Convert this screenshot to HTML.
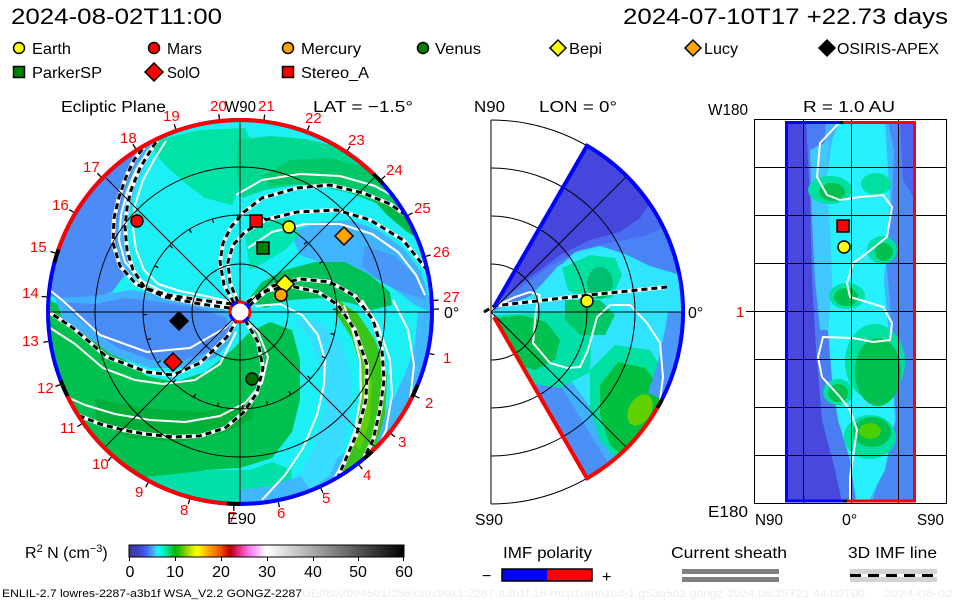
<!DOCTYPE html>
<html><head><meta charset="utf-8"><title>ENLIL</title>
<style>
html,body{margin:0;padding:0;background:#fff;}
svg{display:block;}
text{font-family:"Liberation Sans",sans-serif;}
</style></head><body>
<svg width="960" height="600" viewBox="0 0 960 600" xmlns="http://www.w3.org/2000/svg">
<defs>
<clipPath id="ecl"><circle cx="240" cy="312" r="192"/></clipPath>
<clipPath id="mer"><path d="M494 307 L587 145.7 A192 192 0 0 1 587 478.3 L494 317 Z"/></clipPath>
<clipPath id="rp"><rect x="785" y="121" width="130" height="381"/></clipPath>
<linearGradient id="cb" x1="0" x2="1" y1="0" y2="0">
<stop offset="0" stop-color="#3c3c8c"/>
<stop offset="0.0333" stop-color="#4040c8"/>
<stop offset="0.05" stop-color="#4050e8"/>
<stop offset="0.0667" stop-color="#4070f8"/>
<stop offset="0.0833" stop-color="#40a0ff"/>
<stop offset="0.1" stop-color="#40d8ff"/>
<stop offset="0.1083" stop-color="#00ffff"/>
<stop offset="0.1333" stop-color="#00e8a0"/>
<stop offset="0.15" stop-color="#00d060"/>
<stop offset="0.1667" stop-color="#00b800"/>
<stop offset="0.1833" stop-color="#30c000"/>
<stop offset="0.2" stop-color="#70cc00"/>
<stop offset="0.2167" stop-color="#a8dc00"/>
<stop offset="0.2333" stop-color="#e0f000"/>
<stop offset="0.25" stop-color="#ffff00"/>
<stop offset="0.2667" stop-color="#ffd800"/>
<stop offset="0.2833" stop-color="#ffb000"/>
<stop offset="0.3" stop-color="#ff9000"/>
<stop offset="0.3167" stop-color="#ff7000"/>
<stop offset="0.3333" stop-color="#f05000"/>
<stop offset="0.35" stop-color="#e02000"/>
<stop offset="0.3667" stop-color="#c00000"/>
<stop offset="0.3833" stop-color="#d01040"/>
<stop offset="0.4" stop-color="#e03080"/>
<stop offset="0.4167" stop-color="#f050b0"/>
<stop offset="0.4333" stop-color="#ff70e0"/>
<stop offset="0.45" stop-color="#ff90ff"/>
<stop offset="0.4667" stop-color="#ffb8ff"/>
<stop offset="0.4833" stop-color="#ffe0ff"/>
<stop offset="0.5" stop-color="#ffffff"/>
<stop offset="1" stop-color="#000000"/>
</linearGradient>
</defs>
<rect width="960" height="600" fill="#fff"/>

<!-- Titles -->
<text x="11" y="24" font-size="22" textLength="211" lengthAdjust="spacingAndGlyphs">2024-08-02T11:00</text>
<text x="623" y="24" font-size="22" textLength="325" lengthAdjust="spacingAndGlyphs">2024-07-10T17 +22.73 days</text>

<!-- Legend -->
<g stroke="#000" stroke-width="1.5">
<circle cx="19" cy="48" r="5.5" fill="#ffff00"/>
<circle cx="154" cy="48" r="5.5" fill="#ff0000"/>
<circle cx="288" cy="48" r="5.5" fill="#ffa500"/>
<circle cx="423" cy="48" r="5.5" fill="#008000"/>
<polygon points="558,40 566,48 558,56 550,48" fill="#ffff00"/>
<polygon points="693,40 701,48 693,56 685,48" fill="#ffa500"/>
<polygon points="827,40 835,48 827,56 819,48" fill="#000"/>
<rect x="13.5" y="66.5" width="11" height="11" fill="#008000"/>
<polygon points="154,63 163,72 154,81 145,72" fill="#ff0000"/>
<rect x="282.5" y="66.5" width="11" height="11" fill="#ff0000"/>
</g>
<g font-size="16">
<text x="32" y="54" textLength="39" lengthAdjust="spacingAndGlyphs">Earth</text>
<text x="167" y="54" textLength="35" lengthAdjust="spacingAndGlyphs">Mars</text>
<text x="301" y="54" textLength="60" lengthAdjust="spacingAndGlyphs">Mercury</text>
<text x="435" y="54" textLength="46" lengthAdjust="spacingAndGlyphs">Venus</text>
<text x="569" y="54" textLength="33" lengthAdjust="spacingAndGlyphs">Bepi</text>
<text x="704" y="54" textLength="34" lengthAdjust="spacingAndGlyphs">Lucy</text>
<text x="837" y="54" textLength="102" lengthAdjust="spacingAndGlyphs">OSIRIS-APEX</text>
<text x="32" y="78" textLength="70" lengthAdjust="spacingAndGlyphs">ParkerSP</text>
<text x="167" y="78" textLength="33" lengthAdjust="spacingAndGlyphs">SolO</text>
<text x="301" y="78" textLength="68" lengthAdjust="spacingAndGlyphs">Stereo_A</text>
</g>

<!-- Panel headers -->
<g font-size="16">
<text x="61" y="112" textLength="105" lengthAdjust="spacingAndGlyphs">Ecliptic Plane</text>
<text x="225" y="112" textLength="31" lengthAdjust="spacingAndGlyphs">W90</text>
<text x="313" y="112" textLength="100" lengthAdjust="spacingAndGlyphs">LAT = −1.5°</text>
<text x="474" y="112" textLength="31" lengthAdjust="spacingAndGlyphs">N90</text>
<text x="539" y="112" textLength="78" lengthAdjust="spacingAndGlyphs">LON = 0°</text>
<text x="708" y="115" textLength="40" lengthAdjust="spacingAndGlyphs">W180</text>
<text x="803" y="112" textLength="92" lengthAdjust="spacingAndGlyphs">R = 1.0 AU</text>
</g>

<!-- ================= ECLIPTIC ================= -->
<g clip-path="url(#ecl)">
<circle cx="240" cy="312" r="192" fill="#1cf0f4"/>
<polygon fill="#00e2a6" points="150,142 200,130 245,128 252,142 246,175 232,205 205,198 185,183 165,165 155,152"/>
<polygon fill="#00c050" points="44,298 62,306 80,322 100,342 147,376 175,382 205,372 232,350 250,332 270,322 292,330 300,360 300,400 292,432 272,458 240,468 205,470 178,478 158,486 130,476 105,458 82,432 64,400 52,365 46,340"/>
<polygon fill="#00b038" points="95,398 140,408 200,412 240,406 256,394 252,418 228,432 180,442 130,438 96,422"/>
<polygon fill="#00e0a8" points="140,478 175,474 210,470 250,470 272,462 292,470 290,490 260,502 220,505 180,498 155,488"/>
<polygon fill="#4c8cf6" points="40,292 48,268 55,250 64,232 75,214 88,196 102,180 118,166 134,154 150,144 138,160 128,182 121,205 117,230 118,255 124,276 112,292 90,300 62,300"/>
<polygon fill="#40b4ff" points="150,144 156,142 146,162 136,185 129,210 126,236 128,258 134,278 124,276 118,255 117,230 121,205 128,182 138,160"/>
<polygon fill="#40b0ff" points="55,298 95,296 130,290 170,295 215,303 235,318 232,340 215,358 185,368 150,368 112,355 85,335 62,318"/>
<polygon fill="#4a8cf6" points="62,302 95,304 125,298 160,302 200,308 226,318 230,334 214,350 185,360 150,360 118,348 95,332 75,316"/>
<polygon fill="#40b8ff" points="432,312 429,345 420,378 406,408 384,440 361,462 336,478 306,492 273,501 240,504 240,490 270,486 300,476 328,464 352,448 373,428 393,400 406,372 415,343 418,312"/>
<polygon fill="#38dcff" points="295,318 320,322 340,340 350,370 352,400 345,440 330,475 310,490 300,475 315,445 325,405 322,370 310,340"/>
<polygon fill="#38c418" points="338,300 358,314 375,340 387,375 385,415 375,450 360,472 342,488 334,478 350,448 360,410 362,372 352,338 335,312"/>
<polygon fill="#5cd000" points="352,332 365,352 372,382 370,420 360,450 353,444 360,410 362,376 356,346"/>
<polygon fill="#00d890" points="238,140 270,136 305,139 335,146 362,158 388,175 408,195 422,218 429,242 415,232 400,218 380,203 355,193 325,186 295,185 265,190 242,198 236,170"/>
<polygon fill="#00c868" points="290,160 330,158 362,166 388,182 408,200 420,222 426,240 412,230 396,216 376,203 350,193 320,186 292,184 270,186 262,176"/>
<polygon fill="#00b848" points="372,198 395,206 413,221 424,242 407,232 386,214"/>
<polygon fill="#40b4ff" points="290,232 320,222 350,220 378,230 403,248 420,270 430,300 431,312 415,305 395,290 370,275 345,265 320,262 300,255"/>
<polygon fill="#4898f8" points="365,246 395,256 415,276 426,300 402,292 378,280 362,266"/>
<polygon fill="#00e4b0" points="245,235 265,222 290,218 300,235 285,250 265,262 250,270"/>
<polygon fill="#00c058" points="248,300 262,282 285,270 315,262 345,262 370,275 390,292 392,305 372,310 350,303 320,298 290,300 265,308"/>

<!-- white lines -->
<g fill="none" stroke="#fff" stroke-width="2" stroke-linejoin="round">
<polyline points="232,305 200,301 168,294 142,281 125,262 119,240 121,215 127,192 136,170 148,151 156,143"/>
<polyline points="233,302 205,296 180,291 158,284 144,270 136,250 133,228 135,205 143,180 155,158 166,141"/>
<polyline points="46,287 62,300 100,335 147,352 190,348 225,328 236,316"/>
<polyline points="44,324 75,344 103,368 135,380 163,384 195,380 220,364 236,332"/>
<polyline points="58,393 85,405 115,414 150,420 185,422 220,416 245,403 262,383 268,357 258,332 246,318"/>
<polyline points="262,500 285,475 303,448 317,415 324,385 325,360 318,335 302,315 280,304 255,306"/>
<polyline points="344,305 352,328 360,360 361,395 355,430 343,462 330,486"/>
<polyline points="362,300 378,325 390,360 392,395 386,430 375,455"/>
<polyline points="393,300 408,330 414,365 410,400 400,425"/>
<polyline points="236,195 262,180 300,174 340,176 375,186 400,200 418,220"/>
<polyline points="248,248 272,232 305,224 340,224 372,234 398,252 416,275 425,295"/>
</g>
<!-- dashed IMF lines -->
<g fill="none" stroke-linejoin="round">
<g stroke="#fff" stroke-width="4">
<polyline points="230,308 200,304 165,297 136,284 120,266 113,243 114,218 119,197 126,177 134,160 144,147"/>
<polyline points="232,304 200,300 168,295 145,288 133,270 127,250 125,227 127,208 131,190 140,168 152,148 157,141"/>
<polyline points="238,318 227,337 200,363 173,375 147,372 107,357 73,328 46,310"/>
<polyline points="245,320 258,342 263,368 257,393 243,413 225,428 200,436 173,437 145,434 123,430 100,424 80,416 60,404"/>
<polyline points="238,302 230,283 228,262 233,245 245,232 265,220 297,212 337,210 370,220 403,240 427,270"/>
<polyline points="234,303 224,285 220,262 223,243 231,227 244,212 262,198 297,188 330,185 363,193 390,204 407,216"/>
<polyline points="247,302 265,291 290,286 318,292 338,305 355,330 367,365 366,400 357,433 342,468 333,488"/>
<polyline points="249,306 272,286 300,279 330,282 355,296 373,320 382,350 384,380 380,410 373,440 362,462"/>
</g>
<g stroke="#000" stroke-width="3" stroke-dasharray="6 4">
<polyline points="230,308 200,304 165,297 136,284 120,266 113,243 114,218 119,197 126,177 134,160 144,147"/>
<polyline points="232,304 200,300 168,295 145,288 133,270 127,250 125,227 127,208 131,190 140,168 152,148 157,141"/>
<polyline points="238,318 227,337 200,363 173,375 147,372 107,357 73,328 46,310"/>
<polyline points="245,320 258,342 263,368 257,393 243,413 225,428 200,436 173,437 145,434 123,430 100,424 80,416 60,404"/>
<polyline points="238,302 230,283 228,262 233,245 245,232 265,220 297,212 337,210 370,220 403,240 427,270"/>
<polyline points="234,303 224,285 220,262 223,243 231,227 244,212 262,198 297,188 330,185 363,193 390,204 407,216"/>
<polyline points="247,302 265,291 290,286 318,292 338,305 355,330 367,365 366,400 357,433 342,468 333,488"/>
<polyline points="249,306 272,286 300,279 330,282 355,296 373,320 382,350 384,380 380,410 373,440 362,462"/>
</g>
</g>
<!-- grid -->
<g fill="none" stroke="#000" stroke-width="1">
<path d="M48 312 L432 312 M240 120 L240 504 M104.2 176.2 L375.8 447.8 M104.2 447.8 L375.8 176.2"/>
<circle cx="240" cy="312" r="48"/>
<circle cx="240" cy="312" r="97"/>
<circle cx="240" cy="312" r="145"/>
</g>
<circle cx="240" cy="312" r="95" fill="none" stroke="#000" stroke-width="4" stroke-dasharray="1.2 23.67" transform="rotate(-17 240 312)"/>
</g>

<!-- ecliptic outer ring -->
<g fill="none" stroke-width="4">
<circle cx="240" cy="312" r="192" stroke="#0000ff"/>
<circle cx="240" cy="312" r="192" stroke="#ff0000" stroke-dasharray="385.4 2000" transform="rotate(199 240 312)"/>
<circle cx="240" cy="312" r="192" stroke="#ff0000" stroke-dasharray="201.1 2000" transform="rotate(94 240 312)"/>
<circle cx="240" cy="312" r="192" stroke="#ff0000" stroke-dasharray="67.7 2000" transform="rotate(26.3 240 312)"/>
<circle cx="240" cy="312" r="192" stroke="#000" stroke-dasharray="13.4 2000" transform="rotate(314 240 312)"/>
<circle cx="240" cy="312" r="192" stroke="#000" stroke-dasharray="13.4 2000" transform="rotate(195 240 312)"/>
<circle cx="240" cy="312" r="192" stroke="#000" stroke-dasharray="16.8 2000" transform="rotate(154 240 312)"/>
<circle cx="240" cy="312" r="192" stroke="#000" stroke-dasharray="13.4 2000" transform="rotate(90 240 312)"/>
<circle cx="240" cy="312" r="192" stroke="#000" stroke-dasharray="11.7 2000" transform="rotate(46.5 240 312)"/>
<circle cx="240" cy="312" r="192" stroke="#000" stroke-dasharray="13.1 2000" transform="rotate(22.4 240 312)"/>
</g>
<circle cx="240" cy="312" r="196.5" fill="none" stroke="#000" stroke-width="5" stroke-dasharray="1.3 44.08" transform="rotate(-1.03 240 312)"/>

<!-- sun -->
<circle cx="240" cy="312" r="10" fill="#fff" stroke="#ff0000" stroke-width="3"/>
<circle cx="240" cy="312" r="10" fill="none" stroke="#0000ff" stroke-width="3" stroke-dasharray="7 9" transform="rotate(-60 240 312)"/>

<!-- ecliptic markers -->
<g stroke="#000" stroke-width="1.5">
<circle cx="137" cy="221" r="6" fill="#ff0000"/>
<rect x="250" y="215" width="12" height="12" fill="#ff0000"/>
<circle cx="289" cy="227" r="6" fill="#ffff00"/>
<polygon points="344,227 353,236 344,245 335,236" fill="#ffa500"/>
<rect x="257" y="242" width="12" height="12" fill="#008000"/>
<polygon points="285,275 294,284 285,293 276,284" fill="#ffff00"/>
<circle cx="281" cy="295" r="6" fill="#ffa500"/>
<polygon points="179,312 188,321 179,330 170,321" fill="#000"/>
<polygon points="173,353 182,362 173,371 164,362" fill="#ff0000"/>
<circle cx="252" cy="379" r="6" fill="#007000"/>
</g>

<!-- ecliptic labels -->
<g font-size="15" fill="#ff0000">
<text x="210" y="111">20</text>
<text x="258" y="111">21</text>
<text x="163" y="121">19</text>
<text x="305" y="123">22</text>
<text x="348" y="145">23</text>
<text x="386" y="175">24</text>
<text x="414" y="213">25</text>
<text x="433" y="257">26</text>
<text x="443" y="302">27</text>
<text x="120" y="143">18</text>
<text x="83" y="172">17</text>
<text x="52" y="210">16</text>
<text x="30" y="252">15</text>
<text x="22" y="298">14</text>
<text x="22" y="346">13</text>
<text x="37" y="393">12</text>
<text x="60" y="433">11</text>
<text x="92" y="469">10</text>
<text x="135" y="497">9</text>
<text x="180" y="515">8</text>
<text x="228" y="522">7</text>
<text x="277" y="518">6</text>
<text x="322" y="503">5</text>
<text x="363" y="480">4</text>
<text x="398" y="447">3</text>
<text x="425" y="408">2</text>
<text x="443" y="363">1</text>
</g>
<g font-size="16">
<text x="444" y="318">0°</text>
<text x="227" y="524" textLength="29" lengthAdjust="spacingAndGlyphs">E90</text>
</g>

<!-- ================= MERIDIONAL ================= -->
<g clip-path="url(#mer)">
<rect x="480" y="130" width="220" height="360" fill="#30e4ff"/>
<polygon fill="#4a84f4" points="491,312 530,296 556,270 575,252 600,246 625,254 650,266 690,278 690,100 491,100"/>
<polygon fill="#4a6cf0" points="491,306 520,288 550,266 580,250 615,242 645,236 670,225 690,200 690,100 491,100"/>
<polygon fill="#4646dc" points="491,306 515,288 540,270 560,255 590,240 620,232 640,218 652,200 656,170 640,120 491,100"/>
<polygon fill="#30e8ff" points="535,292 558,266 580,254 606,248 628,258 640,280 635,300 580,302"/>
<polygon fill="#00e0a0" points="562,268 590,255 615,258 622,275 612,298 585,300 568,290"/>
<ellipse cx="600" cy="283" rx="13" ry="16" fill="#00c070"/>
<polygon fill="#40b0ff" points="494,317 587,478 630,458 600,420 570,380 545,345 520,320"/>
<polygon fill="#4a90f6" points="494,317 587,478 610,466 560,385 520,330 500,315"/>
<polygon fill="#00e0a8" points="495,315 560,312 592,328 590,372 560,388 520,382 500,360"/>
<polygon fill="#00c050" points="497,318 522,315 546,322 560,340 555,360 535,370 515,364 500,345"/>
<polygon fill="#00c868" points="565,300 600,300 615,315 605,335 580,335 565,320"/>
<polygon fill="#00e0a0" points="590,370 615,345 650,350 672,385 672,430 655,460 625,470 600,440 590,410"/>
<polygon fill="#00c040" points="600,385 618,362 645,368 664,392 668,420 655,448 630,462 610,445 600,415"/>
<ellipse cx="640" cy="410" rx="11" ry="17" fill="#60d000" transform="rotate(30 640 410)"/>
<polygon fill="#4a98f8" points="683,312 681,345 672,378 662,399 648,393 658,362 665,330 668,312"/>
<polyline fill="none" stroke="#fff" stroke-width="2" points="500,304 515,297 530,292 540,295 536,310 533,343 550,363 567,368 580,367 588,350 597,317 610,305 630,305 647,323 660,343 663,377 660,400"/>
</g>
<polyline fill="none" stroke="#fff" stroke-width="4" points="484,312 494,306 580,296 667,287"/>
<polyline fill="none" stroke="#000" stroke-width="3" stroke-dasharray="6 4" points="484,312 494,306 580,296 667,287"/>
<g fill="none" stroke="#000" stroke-width="1">
<path d="M491 120 A192 192 0 0 1 491 504 M491 168 A144 144 0 0 1 491 456 M491 216 A96 96 0 0 1 491 408 M491 264 A48 48 0 0 1 491 360"/>
<path d="M491 120 L491 504 M491 312 L683 312 M491 312 L626.8 176.2 M491 312 L626.8 447.8"/>
</g>
<g fill="none" stroke-width="4">
<path d="M494 307 L587 145.7 A192 192 0 0 1 662.1 399.2" stroke="#0000ff"/>
<path d="M662.1 399.2 A192 192 0 0 1 657.3 408" stroke="#000"/>
<path d="M657.3 408 A192 192 0 0 1 587 478.3 L494 317" stroke="#ff0000"/>
</g>
<circle cx="587" cy="301" r="6" fill="#ffff00" stroke="#000" stroke-width="1.5"/>
<g font-size="16">
<text x="475" y="525" textLength="28" lengthAdjust="spacingAndGlyphs">S90</text>
<text x="688" y="318">0°</text>
</g>

<!-- ================= R = 1 AU PANEL ================= -->
<g clip-path="url(#rp)">
<rect x="785" y="121" width="130" height="381" fill="#40b4ff"/>
<polygon fill="#4a7cf2" points="785,121 826,121 820,200 826,280 832,330 840,400 860,470 862,502 785,502"/>
<polygon fill="#4848dc" points="785,121 806,121 810,200 812,280 816,350 822,420 835,470 842,502 785,502"/>
<polygon fill="#4a88f4" points="888,121 915,121 915,502 872,502 882,470 896,420 892,350 890,300 886,260 892,200 894,150"/>
<polygon fill="#4a66ee" points="900,121 915,121 915,200 903,180"/>
<polygon fill="#28f0ff" points="840,121 885,121 890,200 884,280 890,350 895,420 885,470 868,502 856,502 850,460 838,420 832,380 828,330 832,280 830,230 826,180 832,140"/>
<polygon fill="#40c8ff" points="810,150 830,140 826,180 830,230 832,280 828,330 820,330 815,280 812,220"/>
<g fill="#00e0a0">
<ellipse cx="830" cy="190" rx="22" ry="14"/>
<ellipse cx="876" cy="184" rx="15" ry="11"/>
<ellipse cx="882" cy="250" rx="15" ry="14"/>
<ellipse cx="847" cy="296" rx="18" ry="13"/>
<ellipse cx="875" cy="362" rx="30" ry="38"/>
<ellipse cx="838" cy="392" rx="15" ry="13"/>
<ellipse cx="870" cy="437" rx="26" ry="22"/>
</g>
<g fill="#00c050">
<ellipse cx="832" cy="192" rx="13" ry="9"/>
<ellipse cx="884" cy="252" rx="9" ry="9"/>
<ellipse cx="846" cy="297" rx="12" ry="9"/>
<ellipse cx="878" cy="372" rx="23" ry="34"/>
<ellipse cx="838" cy="393" rx="10" ry="9"/>
<ellipse cx="872" cy="432" rx="19" ry="15"/>
</g>
<ellipse cx="870" cy="431" rx="11" ry="8" fill="#48d000"/>
<polyline fill="none" stroke="#fff" stroke-width="2" points="840,122 820,143 817,177 827,195 840,200 860,197 883,195 892,207 887,237 867,253 853,263 847,283 850,297 867,302 883,307 892,323 890,340 873,342 853,338 823,337 818,357 822,377 840,397 850,410 857,430 853,457 850,477 850,502"/>
</g>
<g fill="none" stroke="#000" stroke-width="1">
<rect x="754.5" y="119.5" width="192" height="384"/>
<path d="M754 167.5 H947 M754 215.5 H947 M754 263.5 H947 M754 311.5 H947 M754 359.5 H947 M754 407.5 H947 M754 455.5 H947 M803.5 119 V503 M851.5 119 V503 M898.5 119 V503 M746 311.5 H754"/>
</g>
<g fill="none" stroke-width="3">
<path d="M786.5 121 V502" stroke="#0000ff"/>
<path d="M914.5 121 V502" stroke="#ff0000"/>
<path d="M785 122.5 H840" stroke="#0000ff"/>
<path d="M840 122.5 H843" stroke="#000"/>
<path d="M843 122.5 H916" stroke="#ff0000"/>
<path d="M785 501 H843" stroke="#0000ff"/>
<path d="M843 501 H847" stroke="#000"/>
<path d="M847 501 H916" stroke="#ff0000"/>
</g>
<g stroke="#000" stroke-width="1.5">
<rect x="837" y="220" width="12" height="12" fill="#ff0000"/>
<circle cx="844" cy="247" r="6" fill="#ffff00"/>
</g>
<g font-size="16">
<text x="708" y="517" textLength="40" lengthAdjust="spacingAndGlyphs">E180</text>
<text x="755" y="525" textLength="28" lengthAdjust="spacingAndGlyphs">N90</text>
<text x="842" y="525">0°</text>
<text x="917" y="525" textLength="27" lengthAdjust="spacingAndGlyphs">S90</text>
</g>
<text x="736" y="317" font-size="15" fill="#ff0000">1</text>

<!-- ================= COLORBAR ================= -->
<text x="25" y="558" font-size="16">R<tspan dy="-6" font-size="11">2</tspan><tspan dy="6"> N (cm</tspan><tspan dy="-6" font-size="11">−3</tspan><tspan dy="6">)</tspan></text>
<rect x="129" y="545" width="275" height="12" fill="url(#cb)" stroke="#000" stroke-width="1"/>
<path d="M129.5 557 V561 M175.5 557 V561 M221.5 557 V561 M267.5 557 V561 M313.5 557 V561 M358.5 557 V561 M403.5 557 V561" stroke="#000" stroke-width="1"/>
<g font-size="16" text-anchor="middle">
<text x="130" y="577">0</text>
<text x="175" y="577">10</text>
<text x="221" y="577">20</text>
<text x="267" y="577">30</text>
<text x="313" y="577">40</text>
<text x="358" y="577">50</text>
<text x="404" y="577">60</text>
</g>

<!-- bottom legends -->
<g font-size="16">
<text x="503" y="558" textLength="89" lengthAdjust="spacingAndGlyphs">IMF polarity</text>
<text x="671" y="558" textLength="116" lengthAdjust="spacingAndGlyphs">Current sheath</text>
<text x="848" y="558" textLength="89" lengthAdjust="spacingAndGlyphs">3D IMF line</text>
<text x="482" y="581">−</text>
<text x="602" y="582">+</text>
</g>
<rect x="502" y="569" width="45" height="12" fill="#0000ff"/>
<rect x="547" y="569" width="45" height="12" fill="#ff0000"/>
<rect x="502" y="569" width="90" height="12" fill="none" stroke="#000" stroke-width="1.5"/>
<rect x="682" y="569" width="97" height="5" fill="#808080"/>
<rect x="682" y="577" width="97" height="5" fill="#808080"/>
<rect x="850" y="569" width="87" height="13" fill="#d3d3d3"/>
<line x1="850" y1="575.5" x2="937" y2="575.5" stroke="#fff" stroke-width="3"/>
<line x1="850" y1="575.5" x2="937" y2="575.5" stroke="#000" stroke-width="3" stroke-dasharray="11 7"/>

<!-- footer -->
<text x="2" y="597" font-size="11" textLength="300" lengthAdjust="spacingAndGlyphs">ENLIL-2.7 lowres-2287-a3b1f WSA_V2.2 GONGZ-2287</text>
<text x="302" y="597" font-size="11" fill="#ececec" textLength="563" lengthAdjust="spacingAndGlyphs">UE0802094501/256x30x90x1:2287-a3b1f.16-mcp1umn1cd-1.g53q5d2.gongz-2024:06:29T21:44:00T00</text>
<text x="883" y="597" font-size="11" fill="#ececec" textLength="70" lengthAdjust="spacingAndGlyphs">2024-08-02</text>
</svg>
</body></html>
